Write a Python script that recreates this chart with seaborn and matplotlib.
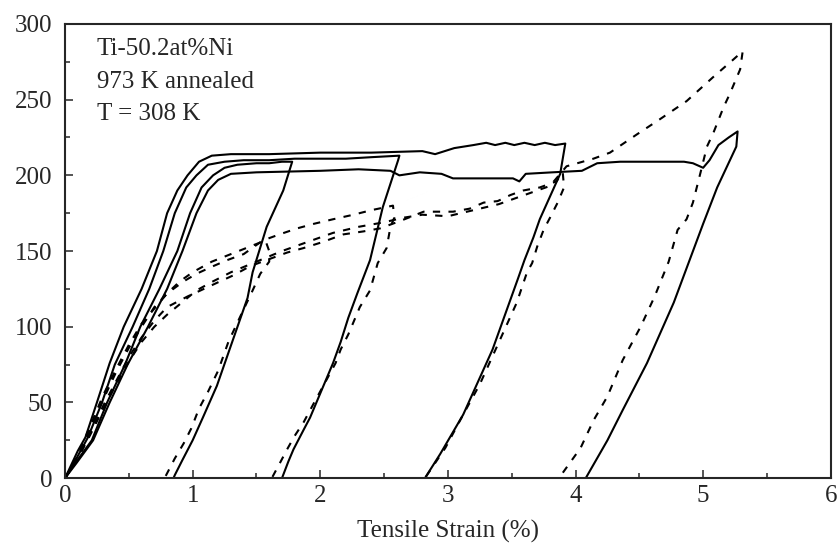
import matplotlib
matplotlib.use("Agg")
import matplotlib.pyplot as plt
from matplotlib.ticker import MultipleLocator
import seaborn as sns
import pandas as pd

# solid curves (strain %, stress)
s1_strain = [0, 0.08, 0.21, 0.33, 0.47, 0.59, 0.74, 0.88, 0.98, 1.07, 1.16, 1.25, 1.35, 1.5, 1.6, 1.7, 1.78,
             1.71, 1.58, 1.47, 1.43, 1.19, 1.08, 1.0, 0.92, 0.86, 0.85]
s1_stress = [0, 10, 25, 50, 75, 100, 125, 150, 175, 192, 200, 205, 207, 208, 208, 209, 209,
             190, 166, 136, 119, 61, 40, 25, 12, 2, 0]

s2_strain = [0, 0.07, 0.18, 0.29, 0.39, 0.53, 0.66, 0.77, 0.86, 0.95, 1.03, 1.12, 1.25, 1.4, 1.6, 1.8, 2.0,
             2.2, 2.4, 2.62, 2.61, 2.49, 2.39, 2.29, 2.22, 2.16, 2.10, 2.01, 1.92, 1.87, 1.79, 1.75, 1.70]
s2_stress = [0, 10, 27, 50, 75, 100, 125, 150, 175, 192, 200, 207, 209, 210, 210, 211, 211,
             211, 212, 213, 210, 179, 144, 122, 106, 90, 76, 58, 40, 32, 19, 11, 0]

s3_strain = [0, 0.05, 0.1, 0.16, 0.25, 0.35, 0.46, 0.60, 0.72, 0.80, 0.88, 0.96, 1.05, 1.15, 1.3, 1.6, 2.0,
             2.4, 2.8, 2.9, 3.05, 3.2, 3.3, 3.37, 3.45, 3.52, 3.6, 3.68, 3.76, 3.84, 3.92,
             3.88, 3.80, 3.72, 3.67, 3.60, 3.55, 3.35, 3.12, 2.94, 2.82]
s3_stress = [0, 9, 18, 27, 50, 76, 100, 125, 150, 175, 190, 200, 209, 213, 214, 214, 215,
             215, 216, 214, 218, 220, 221.5, 220, 221.5, 220, 221.5, 220, 221.5, 220, 221,
             201, 186, 171, 159, 144, 132, 85, 42, 16, 0]

s4_strain = [0, 0.09, 0.22, 0.35, 0.49, 0.65, 0.80, 0.92, 1.03, 1.12, 1.20, 1.3, 1.5, 2.0, 2.3, 2.55, 2.62,
             2.78, 2.95, 3.04, 3.3, 3.51, 3.56, 3.61, 3.82, 4.05, 4.17, 4.35, 4.6, 4.85, 4.92, 5.0,
             5.05, 5.12, 5.2, 5.27, 5.26, 5.11, 5.0, 4.77, 4.56, 4.37, 4.25, 4.08]
s4_stress = [0, 10, 25, 50, 75, 100, 125, 150, 175, 190, 197, 201, 202, 203, 204, 203, 200,
             202, 201, 198, 198, 198, 196, 201, 202, 203, 208, 209, 209, 209, 208, 205,
             210, 220, 225, 229, 219, 192, 168, 116, 76, 45, 25, 0]

# dashed curves
d1_strain = [0, 0.1, 0.2, 0.3, 0.4, 0.5, 0.6, 0.7, 0.8, 0.9, 1.0, 1.15, 1.3, 1.45, 1.57,
             1.60, 1.60, 1.53, 1.47, 1.38, 1.28, 1.20, 1.12, 1.05, 0.99, 0.93, 0.86, 0.78]
d1_stress = [0, 15, 35, 55, 72, 88, 102, 112, 122, 130, 136, 143, 148, 153, 157,
             150, 143, 135, 124, 108, 90, 71, 57, 46, 33, 23, 13, 0]

d2_strain = [0, 0.1, 0.2, 0.3, 0.4, 0.5, 0.6, 0.7, 0.8, 0.93, 1.03, 1.16, 1.27, 1.40, 1.55, 1.68, 1.82,
             1.95, 2.1, 2.26, 2.4, 2.57, 2.58, 2.55, 2.52, 2.45, 2.39, 2.31, 2.22, 2.16, 2.12, 2.03,
             1.94, 1.87, 1.80, 1.74, 1.69, 1.62]
d2_stress = [0, 14, 33, 52, 70, 86, 100, 113, 122, 130, 135, 140, 144, 148, 157, 161, 165,
             168, 171, 174, 177, 180, 172, 166, 152, 142, 124, 113, 95, 85, 76, 62,
             48, 37, 28, 19, 11, 0]

d3_strain = [0, 0.1, 0.2, 0.3, 0.4, 0.5, 0.6, 0.7, 0.8, 0.96, 1.19, 1.32, 1.45, 1.61, 1.74, 1.87, 2.02,
             2.18, 2.34, 2.47, 2.63, 2.81, 3.04, 3.17, 3.28, 3.39, 3.49, 3.59, 3.72, 3.85, 3.90,
             3.91, 3.86, 3.80, 3.75, 3.70, 3.66, 3.62, 3.54, 3.39, 3.25, 3.12, 2.98, 2.86, 2.82]
d3_stress = [0, 13, 30, 48, 64, 80, 93, 104, 113, 120, 129, 134, 140, 145, 149, 152, 156,
             161, 163, 165, 170, 176, 176, 178, 182, 183, 187, 190, 192, 196, 202,
             192, 182, 172, 164, 153, 142, 136, 116, 88, 62, 42, 20, 5, 0]

d4_strain = [0, 0.1, 0.2, 0.3, 0.4, 0.5, 0.6, 0.7, 0.8, 0.93, 1.03, 1.16, 1.3, 1.5, 1.7, 1.9, 2.1,
             2.3, 2.5, 2.65, 2.8, 3.0, 3.2, 3.4, 3.6, 3.8, 3.93, 4.14, 4.27, 4.48, 4.66, 4.87, 5.08,
             5.23, 5.31, 5.29, 5.21, 5.16, 5.08, 5.03, 4.98, 4.92, 4.87, 4.80, 4.73, 4.62, 4.51,
             4.37, 4.25, 4.14, 4.04, 3.87]
d4_stress = [0, 13, 29, 46, 62, 77, 90, 100, 108, 117, 124, 130, 136, 143, 150, 156, 162,
             166, 169, 172, 174, 173, 177, 181, 187, 193, 206, 211, 215, 227, 237, 249, 265,
             276, 282, 270, 254, 245, 228, 219, 202, 182, 171, 164, 143, 120, 100,
             78, 54, 38, 20, 0]

solid = [(s1_strain, s1_stress), (s2_strain, s2_stress), (s3_strain, s3_stress), (s4_strain, s4_stress)]
dashed = [(d1_strain, d1_stress), (d2_strain, d2_stress), (d3_strain, d3_stress), (d4_strain, d4_stress)]

sns.set_style("ticks")
plt.rcParams['font.family'] = ['Liberation Serif', 'DejaVu Serif']

fig = plt.figure(figsize=(8.4, 5.44), dpi=100)
ax = fig.add_axes([0.0774, 0.121, 0.9116, 0.835])

for x, y in solid:
    df = pd.DataFrame({"strain": x, "stress": y})
    sns.lineplot(data=df, x="strain", y="stress", sort=False, estimator=None,
                 color="black", linewidth=1.5, ax=ax)
for x, y in dashed:
    df = pd.DataFrame({"strain": x, "stress": y})
    sns.lineplot(data=df, x="strain", y="stress", sort=False, estimator=None,
                 color="black", linewidth=1.5, linestyle=(0, (3.5, 4)), ax=ax)

ax.set_xlim(0, 6)
ax.set_ylim(0, 300)
ax.xaxis.set_major_locator(MultipleLocator(1))
ax.xaxis.set_minor_locator(MultipleLocator(0.5))
ax.yaxis.set_major_locator(MultipleLocator(50))
ax.yaxis.set_minor_locator(MultipleLocator(25))
ax.tick_params(which="both", direction="in", width=1.1, labelsize=18, top=False, right=False)
ax.tick_params(which="major", length=6, pad=5)
ax.tick_params(which="minor", length=3.5)
ax.tick_params(axis="y", pad=9)
for sp in ax.spines.values():
    sp.set_linewidth(1.5)
    sp.set_visible(True)

ax.set_xlabel("Tensile Strain (%)", fontsize=18, labelpad=9)
ax.set_ylabel("")

ax.text(0.25, 279.6, "Ti-50.2at%Ni", fontsize=18, va="baseline")
ax.text(0.25, 257.8, "973 K annealed", fontsize=18, va="baseline")
ax.text(0.25, 236.6, "T = 308 K", fontsize=18, va="baseline")

fig.savefig("out.png", dpi=100)
